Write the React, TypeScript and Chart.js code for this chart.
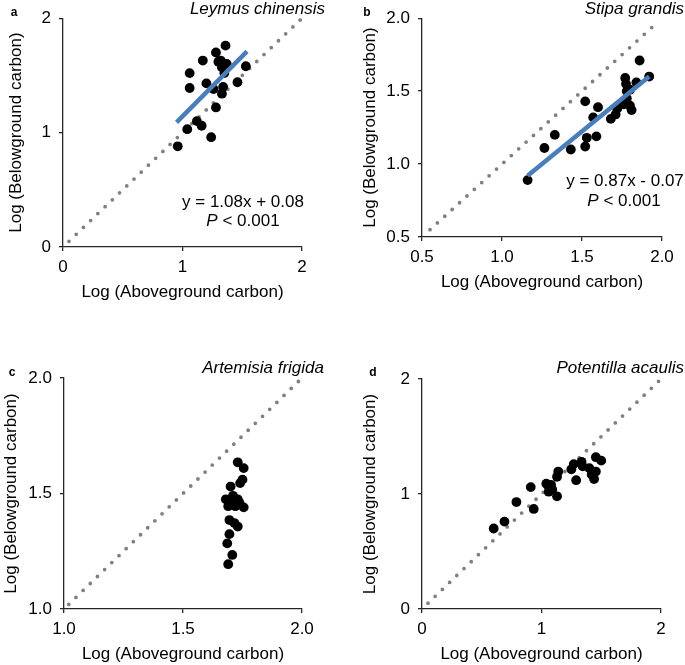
import React, { useEffect, useRef } from "react";
import { Chart, registerables } from "chart.js";

Chart.register(...registerables);

const FONT = "'Liberation Sans', Arial, Helvetica, sans-serif";
const AXIS_COLOR = "#262626";
const TEXT_COLOR = "#000000";

// Panel a: Leymus chinensis
const leymusX = [0.96, 1.04, 1.12, 1.16, 1.24, 1.28, 1.06, 1.06, 1.17, 1.2, 1.26, 1.28, 1.36, 1.32, 1.37, 1.33, 1.35, 1.34, 1.33, 1.46, 1.53, 1.3];
const leymusY = [0.88, 1.03, 1.1, 1.06, 0.96, 1.22, 1.52, 1.39, 1.63, 1.43, 1.38, 1.7, 1.76, 1.63, 1.6, 1.57, 1.52, 1.4, 1.34, 1.44, 1.58, 1.62];
const leymusFitX = [0.95, 1.54];
const leymusFitY = [1.09, 1.71];

// Panel b: Stipa grandis
const stipaX = [1.16, 1.265, 1.33, 1.43, 1.52, 1.53, 1.52, 1.59, 1.6, 1.57, 1.68, 1.71, 1.72, 1.77, 1.775, 1.78, 1.78, 1.76, 1.8, 1.81, 1.84, 1.86, 1.92, 1.8];
const stipaY = [0.89, 1.11, 1.2, 1.1, 1.43, 1.18, 1.12, 1.19, 1.39, 1.32, 1.31, 1.34, 1.38, 1.59, 1.55, 1.5, 1.45, 1.41, 1.4, 1.37, 1.56, 1.71, 1.6, 1.51];
const stipaFitX = [1.16, 1.92];
const stipaFitY = [0.92, 1.6];

// Panel c: Artemisia frigida
const artemisiaX = [1.73, 1.755, 1.75, 1.74, 1.7, 1.68, 1.71, 1.73, 1.7, 1.72, 1.755, 1.69, 1.737, 1.695, 1.73, 1.716, 1.695, 1.686, 1.707, 1.69];
const artemisiaY = [1.635, 1.61, 1.56, 1.545, 1.53, 1.475, 1.49, 1.475, 1.455, 1.445, 1.44, 1.445, 1.46, 1.385, 1.357, 1.372, 1.324, 1.284, 1.234, 1.194];

// Panel d: Potentilla acaulis
const potentillaX = [0.6, 0.69, 0.79, 0.91, 0.935, 1.05, 1.06, 1.08, 1.09, 1.13, 1.14, 1.13, 1.25, 1.27, 1.29, 1.335, 1.345, 1.4, 1.42, 1.455, 1.44, 1.455, 1.5, 1.04];
const potentillaY = [0.7, 0.76, 0.93, 1.06, 0.87, 1.08, 1.02, 1.08, 1.04, 0.98, 1.195, 1.15, 1.215, 1.26, 1.12, 1.28, 1.24, 1.225, 1.17, 1.195, 1.13, 1.32, 1.29, 1.09];

// 1:1 reference lines (start, end)
const oneToOneA = [0.05, 2.0];
const oneToOneB = [0.55, 1.97];
const oneToOneC = [1.02, 1.99];
const oneToOneD = [0.05, 1.99];

// Tick values
const ticksWhole = [0, 1, 2];
const ticksB = [0.5, 1.0, 1.5, 2.0];
const ticksC = [1.0, 1.5, 2.0];

const xTitle = "Log (Aboveground carbon)";
const yTitle = "Log (Belowground carbon)";

type PanelProps = {
  left: number; top: number; width: number; height: number;
  yWidth: number; xHeight: number; padTop: number; padRight: number;
  xTicks: number[]; yTicks: number[]; decimals: number;
  xs: number[]; ys: number[];
  fitX?: number[]; fitY?: number[];
  refLine: number[];
  xTitlePad: number; yTitlePad: number;
};

function Panel(p: PanelProps) {
  const ref = useRef<HTMLCanvasElement | null>(null);
  useEffect(() => {
    if (!ref.current) return;
    const datasets: any[] = [];
    if (p.fitX && p.fitY) {
      datasets.push({
        data: p.fitX.map((x, i) => ({ x, y: p.fitY![i] })),
        showLine: true,
        borderColor: "#4a7ebb",
        borderWidth: 4.5,
        pointRadius: 0,
        borderCapStyle: "butt",
        order: 0,
      });
    }
    datasets.push({
      data: p.xs.map((x, i) => ({ x, y: p.ys[i] })),
      backgroundColor: "#000000",
      borderWidth: 0,
      pointRadius: 4.9,
      pointHoverRadius: 4.9,
      order: 1,
    });
    datasets.push({
      data: p.refLine.map((v) => ({ x: v, y: v })),
      showLine: true,
      borderColor: "#808080",
      borderWidth: 3.8,
      borderDash: [0, 10],
      borderCapStyle: "round",
      pointRadius: 0,
      order: 2,
    });
    const fmt = (v: any) => Number(v).toFixed(p.decimals);
    const axisCommon = (ticks: number[]) => ({
      type: "linear",
      min: ticks[0],
      max: ticks[ticks.length - 1],
      afterBuildTicks: (s: any) => {
        s.ticks = ticks.map((v) => ({ value: v }));
      },
      grid: {
        drawOnChartArea: false,
        drawTicks: true,
        tickLength: 4,
        color: AXIS_COLOR,
        lineWidth: 1.3,
      },
      border: { display: true, color: AXIS_COLOR, width: 1.3 },
    });
    const chart = new Chart(ref.current, {
      type: "scatter",
      data: { datasets },
      options: {
        animation: false,
        responsive: false,
        events: [],
        layout: { padding: { top: p.padTop, right: p.padRight, left: 0, bottom: 0 } },
        plugins: { legend: { display: false }, tooltip: { enabled: false } },
        scales: {
          x: {
            ...axisCommon(p.xTicks),
            afterFit: (s: any) => { s.height = p.xHeight; },
            ticks: {
              padding: 6, color: TEXT_COLOR, maxRotation: 0, autoSkip: false,
              font: { family: FONT, size: 17 }, callback: fmt,
            },
            title: {
              display: true, text: xTitle, color: TEXT_COLOR,
              font: { family: FONT, size: 17 },
              padding: { top: 0, bottom: p.xTitlePad },
            },
          },
          y: {
            ...axisCommon(p.yTicks),
            afterFit: (s: any) => { s.width = p.yWidth; },
            ticks: {
              padding: 8, color: TEXT_COLOR, autoSkip: false,
              font: { family: FONT, size: 17 }, callback: fmt,
            },
            title: {
              display: true, text: yTitle, color: TEXT_COLOR,
              font: { family: FONT, size: 17 },
              padding: { top: p.yTitlePad, bottom: 0 },
            },
          },
        },
      } as any,
    });
    return () => chart.destroy();
  }, []);
  return (
    <canvas
      ref={ref}
      width={p.width}
      height={p.height}
      style={{ position: "absolute", left: p.left, top: p.top, width: p.width, height: p.height }}
    />
  );
}

const textBase: React.CSSProperties = {
  position: "absolute",
  fontFamily: FONT,
  color: TEXT_COLOR,
  whiteSpace: "nowrap",
  lineHeight: 1,
};

function Label(props: { x: number; y: number; children: React.ReactNode; align?: "center" | "right"; style?: React.CSSProperties }) {
  const tx = props.align === "right" ? "-100%" : "-50%";
  return (
    <div style={{ ...textBase, left: props.x, top: props.y, transform: `translate(${tx}, -50%)`, ...props.style }}>
      {props.children}
    </div>
  );
}

export default function App() {
  const letter: React.CSSProperties = { fontSize: 12, fontWeight: "bold" };
  const species: React.CSSProperties = { fontSize: 17, fontStyle: "italic" };
  const eq: React.CSSProperties = { fontSize: 17 };
  return (
    <div style={{ position: "fixed", left: 0, top: 0, width: 685, height: 665, background: "#fff", overflow: "hidden" }}>
      <Panel left={0} top={0} width={340} height={320} yWidth={63} xHeight={73} padTop={18} padRight={38}
        xTicks={ticksWhole} yTicks={ticksWhole} decimals={0} xs={leymusX} ys={leymusY}
        fitX={leymusFitX} fitY={leymusFitY} refLine={oneToOneA} xTitlePad={17} yTitlePad={6} />
      <Panel left={340} top={0} width={345} height={320} yWidth={82} xHeight={83} padTop={18} padRight={23}
        xTicks={ticksB} yTicks={ticksB} decimals={1} xs={stipaX} ys={stipaY}
        fitX={stipaFitX} fitY={stipaFitY} refLine={oneToOneB} xTitlePad={27} yTitlePad={20} />
      <Panel left={0} top={330} width={340} height={335} yWidth={64} xHeight={56} padTop={48} padRight={38}
        xTicks={ticksC} yTicks={ticksC} decimals={1} xs={artemisiaX} ys={artemisiaY}
        refLine={oneToOneC} xTitlePad={0} yTitlePad={1} />
      <Panel left={340} top={330} width={345} height={335} yWidth={82} xHeight={56} padTop={49} padRight={24}
        xTicks={ticksWhole} yTicks={ticksWhole} decimals={0} xs={potentillaX} ys={potentillaY}
        refLine={oneToOneD} xTitlePad={0} yTitlePad={20} />

      <Label x={14} y={12} style={letter}>a</Label>
      <Label x={367} y={12} style={letter}>b</Label>
      <Label x={12} y={372} style={letter}>c</Label>
      <Label x={373} y={372} style={letter}>d</Label>

      <Label x={325} y={8} align="right" style={species}>Leymus chinensis</Label>
      <Label x={684} y={8} align="right" style={species}>Stipa grandis</Label>
      <Label x={324} y={367} align="right" style={species}>Artemisia frigida</Label>
      <Label x={684} y={367} align="right" style={species}>Potentilla acaulis</Label>

      <Label x={243} y={201} style={eq}>y = 1.08x + 0.08</Label>
      <Label x={243} y={220} style={eq}><i>P</i> &lt; 0.001</Label>
      <Label x={625} y={180} style={eq}>y = 0.87x - 0.07</Label>
      <Label x={624} y={200} style={eq}><i>P</i> &lt; 0.001</Label>
    </div>
  );
}
